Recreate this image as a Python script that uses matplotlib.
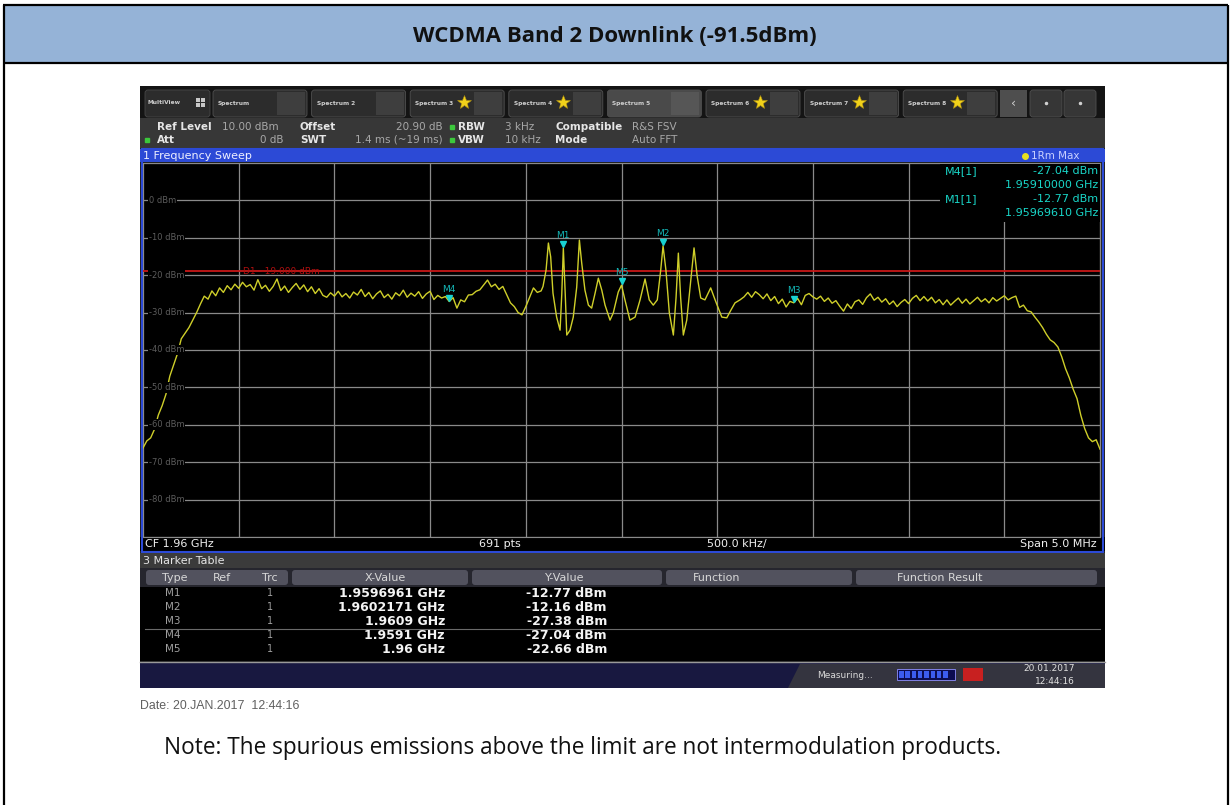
import numpy as np
import matplotlib.pyplot as plt
from matplotlib.patches import Rectangle, FancyBboxPatch, Polygon
from matplotlib.transforms import offset_copy, blended_transform_factory

# analyzer settings
cf_ghz = 1.96
span_mhz = 5.0
ref_level = 10.0
bottom_level = -90.0
limit_dbm = -19.0
step_mhz = 0.02

# trace: lower shoulder, 20 kHz steps from the start of the span
left_start_mhz = -2.50
left_dbm = [-66.2, -64.3, -63.5, -61.2, -57.4, -54.9, -51.8, -47.0, -44.0, -41.0,
            -37.0, -35.5, -34.0, -32.0, -30.0, -27.7, -25.6, -26.4, -24.2, -25.5,
            -23.4, -24.6, -22.8, -23.9, -22.4, -23.5, -21.9, -23.1, -22.5, -24.0,
            -21.2, -23.6, -22.7, -24.3, -23.0, -21.0, -24.1, -22.9, -24.6, -23.3,
            -22.2, -23.8, -22.6, -24.4, -23.1, -24.9, -23.6, -25.4, -25.9, -24.7,
            -25.6, -24.3, -25.8, -24.9, -26.1, -24.5, -25.3, -23.8, -25.7, -24.6,
            -26.3, -25.0, -24.2, -26.0, -25.1, -26.4, -24.7, -25.5, -24.0, -25.9,
            -24.8, -25.6, -24.4, -26.2, -25.0, -24.3, -26.5, -25.4, -26.1, -25.7,
            -27.04, -26.0, -28.8, -26.6, -27.1, -25.3, -25.2, -24.3, -23.9, -22.6,
            -21.3, -23.1, -22.4, -23.8, -23.0, -25.2, -27.4, -28.4, -30.0, -30.6,
            -28.4, -25.9, -23.4, -24.6, -24.2]

# spur region around the centre frequency
mid_mhz = [-0.410, -0.394, -0.382, -0.370, -0.358, -0.339, -0.321, -0.312, -0.3039, -0.294,
           -0.286, -0.269, -0.252, -0.234, -0.220, -0.208, -0.191, -0.173, -0.156, -0.138,
           -0.121, -0.103, -0.086, -0.060, -0.043, -0.017, 0.0, 0.018, 0.044, 0.071,
           0.097, 0.123, 0.145, 0.166, 0.187, 0.205, 0.2171, 0.232, 0.250, 0.271,
           0.285, 0.297, 0.309, 0.323, 0.341, 0.362, 0.379, 0.396, 0.414, 0.436,
           0.466, 0.489, 0.524, 0.550, 0.572, 0.593, 0.619]
mid_dbm = [-23.0, -18.6, -11.4, -15.1, -24.8, -31.2, -34.7, -25.0, -12.77, -25.0,
           -36.0, -34.7, -31.2, -23.2, -10.6, -16.7, -24.0, -28.0, -28.8, -24.8,
           -20.8, -24.0, -28.0, -32.0, -30.1, -24.5, -22.66, -26.6, -32.0, -31.2,
           -26.6, -21.0, -26.6, -28.0, -26.6, -18.6, -12.16, -18.6, -30.1, -36.0,
           -26.0, -14.1, -26.0, -36.0, -32.0, -21.3, -12.7, -20.5, -26.1, -26.6,
           -23.4, -26.6, -31.2, -31.4, -29.3, -27.4, -26.6]

# upper shoulder, 20 kHz steps
right_start_mhz = 0.64
right_dbm = [-25.8, -24.6, -25.9, -24.4, -25.2, -26.3, -25.0, -26.8, -25.7, -27.6,
             -26.4, -28.5, -27.0, -27.38, -26.2, -27.9, -25.4, -24.9, -25.8, -26.4,
             -25.6, -27.0, -26.1, -27.5, -26.8, -28.3, -29.6, -27.7, -28.9, -27.1,
             -26.6, -27.8, -26.0, -25.0, -26.7, -25.9, -27.2, -26.3, -27.8, -26.9,
             -28.4, -27.3, -26.5, -27.6, -26.2, -25.4, -26.8, -25.7, -26.9, -25.9,
             -27.4, -26.5, -27.9, -26.6, -28.0, -27.0, -26.1, -27.5, -26.4, -27.7,
             -26.8, -25.9, -27.1, -26.3, -27.4, -26.0, -26.9, -26.2, -25.5, -26.6,
             -26.0, -25.6, -28.6, -28.0, -29.5, -29.8, -31.2, -32.5, -34.0, -35.8,
             -37.3, -38.0, -39.2, -41.8, -45.0, -47.5, -50.5, -53.0, -57.5, -61.0,
             -63.5, -64.5, -64.0, -66.5]

marker_names = ['M1', 'M2', 'M3', 'M4', 'M5']
marker_ghz = [1.9596961, 1.9602171, 1.9609, 1.9591, 1.96]
marker_dbm = [-12.77, -12.16, -27.38, -27.04, -22.66]
info_markers = ['M4', 'M1']

title = 'WCDMA Band 2 Downlink (-91.5dBm)'
note = 'Note: The spurious emissions above the limit are not intermodulation products.'
date_stamp = 'Date: 20.JAN.2017  12:44:16'
tab_names = ['Spectrum', 'Spectrum 2', 'Spectrum 3', 'Spectrum 4',
             'Spectrum 5', 'Spectrum 6', 'Spectrum 7', 'Spectrum 8']
tab_star = [False, False, True, True, False, True, True, True]
active_tab = 4

left_mhz = left_start_mhz + step_mhz * np.arange(len(left_dbm))
right_mhz = right_start_mhz + step_mhz * np.arange(len(right_dbm))
trace_mhz = np.concatenate([left_mhz, mid_mhz, right_mhz])
trace_dbm = np.concatenate([left_dbm, mid_dbm, right_dbm])
marker_mhz = (np.array(marker_ghz) - cf_ghz) * 1000

W, H = 1230, 805
fig = plt.figure(figsize=(W / 100, H / 100), dpi=100)
renderer = fig.canvas.get_renderer()


def px_axes(x0, y0, x1, y1):
    return [x0 / W, 1 - y1 / H, (x1 - x0) / W, (y1 - y0) / H]


def pixel_axes(zorder):
    a = fig.add_axes([0, 0, 1, 1], zorder=zorder)
    a.set_xlim(0, W)
    a.set_ylim(H, 0)
    a.axis('off')
    return a


page = pixel_axes(0)


def box(a, x0, y0, x1, y1, color, **kw):
    a.add_patch(Rectangle((x0, y0), x1 - x0, y1 - y0, facecolor=color,
                          edgecolor=kw.pop('ec', 'none'), **kw))


def fit(t, width_px):
    w = t.get_window_extent(renderer).width
    t.set_fontsize(t.get_fontsize() * width_px / w)


# document table cell
box(page, 4, 6, 1227, 63, '#95b3d7')
for xs, ys in [([3, 1228], [5.5, 5.5]), ([3, 1228], [63.5, 63.5]),
               ([3.5, 3.5], [5, 805]), ([1227.5, 1227.5], [5, 805])]:
    page.plot(xs, ys, color='black', lw=1.6, solid_capstyle='butt')
t = page.text(615, 36, title, ha='center', va='center', fontsize=14,
              fontweight='bold', family='Open Sans', color='#111111')
fit(t, 406)

# instrument screen
box(page, 140, 86, 1105, 688, '#222222')
box(page, 140, 86, 1105, 118, '#141414')

# tab strip
page.add_patch(FancyBboxPatch((145, 90), 65, 27, boxstyle='round,pad=0,rounding_size=3',
                              fc='#2c2c2c', ec='#484848', lw=0.6))
page.text(148, 103, 'MultiView', fontsize=4.2, fontweight='bold', color='#d0d0d0', va='center')
for dx in (0, 5):
    for dy in (0, 5):
        box(page, 196 + dx, 98 + dy, 200 + dx, 102 + dy, '#c8c8c8')
for i, name in enumerate(tab_names):
    x0 = 213 + i * 98.6
    fc = '#4a4a4a' if i == active_tab else '#2c2c2c'
    page.add_patch(FancyBboxPatch((x0, 90), 94, 27, boxstyle='round,pad=0,rounding_size=3',
                                  fc=fc, ec='#505050', lw=0.6))
    box(page, x0 + 64, 92, x0 + 92, 115, '#3e3e3e' if i != active_tab else '#565656')
    page.text(x0 + 5, 103, name, fontsize=4.2, fontweight='bold', color='#d0d0d0', va='center')
    if tab_star[i]:
        page.plot(x0 + 54, 102, marker='*', ms=10, color='#f2d21a', mec='#b09010', mew=0.4)
box(page, 1000, 90, 1027, 117, '#4e4e4e')
page.text(1013, 103, '\u2039', fontsize=9, color='#d0d0d0', ha='center', va='center')
for x0 in (1030, 1064):
    page.add_patch(FancyBboxPatch((x0, 90), 32, 27, boxstyle='round,pad=0,rounding_size=3',
                                  fc='#363636', ec='#505050', lw=0.6))
    page.plot(x0 + 16, 103, marker='o', ms=1.5, color='#d0d0d0')

# setting summary
box(page, 140, 118, 1105, 148, '#373737')
lab = dict(fontsize=7.5, fontweight='bold', color='#e6e6e6', va='center')
val = dict(fontsize=7.5, color='#a8a8a8', va='center')
page.text(157, 127, 'Ref Level', **lab)
page.text(222, 127, '10.00 dBm', **val)
page.text(300, 127, 'Offset', **lab)
page.text(443, 127, '20.90 dB', ha='right', **val)
page.text(458, 127, 'RBW', **lab)
page.text(505, 127, '3 kHz', **val)
page.text(555, 127, 'Compatible', **lab)
page.text(632, 127, 'R&S FSV', **val)
page.text(157, 140, 'Att', **lab)
page.text(283, 140, '0 dB', ha='right', **val)
page.text(300, 140, 'SWT', **lab)
page.text(443, 140, '1.4 ms (~19 ms)', ha='right', **val)
page.text(458, 140, 'VBW', **lab)
page.text(505, 140, '10 kHz', **val)
page.text(555, 140, 'Mode', **lab)
page.text(632, 140, 'Auto FFT', **val)
page.plot([452, 452, 147], [127, 140, 140], ls='none', marker='s', ms=2.5, color='#3cc83c')

# window title bar and frame
box(page, 140, 149, 1105, 162, '#2c4ad6')
page.text(143, 156, '1 Frequency Sweep', fontsize=8, color='#eef0ff', va='center')
page.plot(1025, 156, marker='o', ms=4, color='#e8e020')
page.text(1031, 156, '1Rm Max', fontsize=7.5, color='#c8d0ff', va='center')
box(page, 140, 537, 1105, 551, 'black')
page.add_patch(Rectangle((141.5, 149), 961, 403, fill=False, ec='#2c4ad6', lw=1.5))
bar = dict(fontsize=8, color='#f0f0f0', va='center')
page.text(145, 544, 'CF 1.96 GHz', **bar)
page.text(500, 544, '691 pts', ha='center', **bar)
page.text(737, 544, '500.0 kHz/', ha='center', **bar)
page.text(1097, 544, 'Span 5.0 MHz', ha='right', **bar)

# spectrum
ax = fig.add_axes(px_axes(143, 163, 1100, 537), zorder=1)
ax.set_facecolor('black')
ax.set_xlim(-span_mhz / 2, span_mhz / 2)
ax.set_ylim(bottom_level, ref_level)
ax.set_xticks(np.linspace(-span_mhz / 2, span_mhz / 2, 11))
ax.set_yticks(np.arange(bottom_level, ref_level + 1, 10))
ax.grid(color='#8a8a8a', lw=0.9)
ax.tick_params(length=0, labelbottom=False, labelleft=False)
for side in ('top', 'left'):
    ax.spines[side].set_visible(False)
for side in ('bottom', 'right'):
    ax.spines[side].set_color('#8a8a8a')

for level in range(0, -90, -10):
    ax.text(-2.47, level, f'{level} dBm', fontsize=6, color='#5c5c5c', va='center',
            bbox=dict(fc='black', ec='none', pad=0.6))

ax.axhline(limit_dbm, color='#c81818', lw=1.3)
lim_tr = blended_transform_factory(ax.transAxes, ax.transData)
ax.text(0.105, limit_dbm, f'D1  {limit_dbm:.3f} dBm', transform=lim_tr, fontsize=6.5,
        color='#b01010', va='center')

ax.plot(trace_mhz, trace_dbm, color='#cfcf2a', lw=1.0)

tri_tr = offset_copy(ax.transData, fig=fig, x=0, y=4, units='dots')
ax.plot(marker_mhz, marker_dbm, 'v', ls='none', ms=5, color='#18d2d2', transform=tri_tr)
for name, f, v in zip(marker_names, marker_mhz, marker_dbm):
    ax.annotate(name, (f, v), xytext=(0, 12.5), textcoords='offset pixels',
                ha='center', va='center', fontsize=6.5, color='#14b8b8')

# marker readout in the upper right corner
over = pixel_axes(2)
box(over, 940, 164, 1100, 222, 'black')
info = dict(fontsize=8, color='#19d6c8', va='center')
for k, name in enumerate(info_markers):
    j = marker_names.index(name)
    y = 171 + 28 * k
    over.text(945, y, f'{name}[1]', **info)
    over.text(1098, y, f'{marker_dbm[j]:.2f} dBm', ha='right', **info)
    over.text(1098, y + 13.5, f'{marker_ghz[j]:.8f} GHz', ha='right', **info)

# marker table
box(page, 140, 553, 1105, 568, '#3b3b3b')
page.text(143, 561, '3 Marker Table', fontsize=8, color='#e6e6e6', va='center')
box(page, 140, 568, 1105, 587, '#26262e')
for x0, x1 in [(146, 288), (292, 468), (472, 662), (666, 852), (856, 1097)]:
    page.add_patch(FancyBboxPatch((x0, 570), x1 - x0, 15, boxstyle='round,pad=0,rounding_size=3',
                                  fc='#52525e', ec='none'))
hdr = dict(fontsize=8, color='#d8d8d8', va='center', ha='center')
for x, s in [(175, 'Type'), (222, 'Ref'), (270, 'Trc'), (385, 'X-Value'),
             (565, 'Y-Value'), (717, 'Function'), (940, 'Function Result')]:
    page.text(x, 578, s, **hdr)
box(page, 140, 587, 1105, 661, 'black')
page.plot([145, 1100], [629, 629], color='#6a6a6a', lw=0.8)
page.plot([140, 1105], [661.5, 661.5], color='#9a9a9a', lw=1.0)
for k, name in enumerate(marker_names):
    y = 593 + 14 * k
    page.text(173, y, name, fontsize=7.5, color='#a0a0a0', ha='center', va='center')
    page.text(270, y, '1', fontsize=7, color='#a0a0a0', ha='center', va='center')
    page.text(445, y, f'{marker_ghz[k]} GHz', fontsize=9, fontweight='bold',
              color='#f4f4f4', ha='right', va='center')
    page.text(607, y, f'{marker_dbm[k]:.2f} dBm', fontsize=9, fontweight='bold',
              color='#f4f4f4', ha='right', va='center')

# status line
box(page, 140, 662, 1105, 688, '#181840')
page.add_patch(Polygon([(788, 688), (800, 664), (1105, 664), (1105, 688)],
                       fc='#34343f', ec='none'))
page.text(817, 675, 'Measuring...', fontsize=6.5, color='#d8d8d8', va='center')
page.add_patch(Rectangle((897, 669), 58, 11, fc='#0c0c50', ec='#9090ff', lw=0.6))
for k in range(8):
    box(page, 899 + k * 6.3, 671, 903.5 + k * 6.3, 678, '#3c5cf0')
box(page, 963, 668, 983, 681, '#c82020')
page.text(1075, 668, '20.01.2017', fontsize=6.5, color='#e0e0e0', ha='right', va='center')
page.text(1075, 681, '12:44:16', fontsize=6.5, color='#e0e0e0', ha='right', va='center')

# caption and note below the screen
t = page.text(140, 706, date_stamp, fontsize=6.5, family='Liberation Sans',
              color='#606060', va='center')
fit(t, 160)
t = page.text(164, 748, note, fontsize=13, family='Open Sans', color='#111111', va='center')
fit(t, 836)

fig.savefig('out.png', dpi=100, facecolor='white')
